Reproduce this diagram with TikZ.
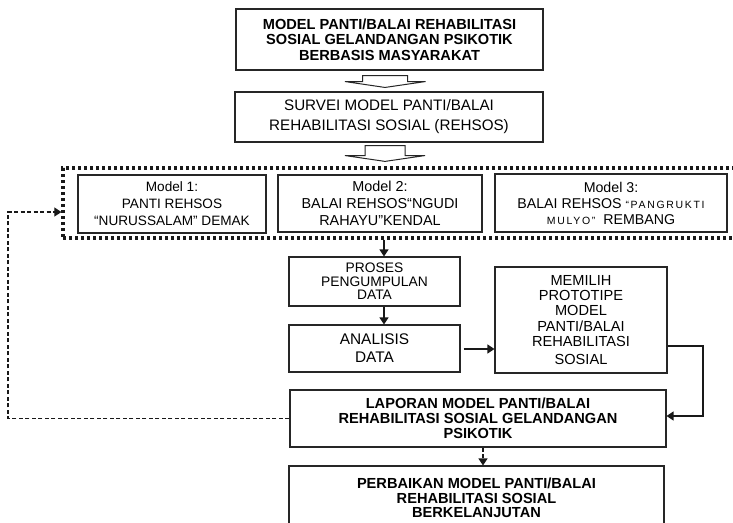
\documentclass[tikz,border=0pt]{standalone}
\usepackage{fontspec}
\setmainfont{Liberation Sans}
\newfontfamily\spacedsmall{Liberation Sans}[LetterSpace=16]
\usetikzlibrary{arrows.meta,calc}

\tikzset{
  box/.style={draw=black!85, line width=1.1pt, align=center, inner sep=0pt},
  frame/.style={draw=black!90, line width=3.2pt, dash pattern=on 3pt off 3pt, inner sep=0pt},
  hollow/.style={draw=black!85, line width=1pt, fill=white, line join=miter},
  arr/.style={draw=black!90, line width=1.2pt, -{Triangle[length=7pt,width=9pt]}},
  darr/.style={draw=black!90, line width=1.1pt, dash pattern=on 4pt off 2.5pt, -{Triangle[length=7pt,width=9pt]}},
  boldtxt/.style={font=\fontsize{14.6}{15.3}\selectfont\bfseries},
}

\begin{document}
\begin{tikzpicture}[x=1pt,y=-1pt]
\useasboundingbox (0,0) rectangle (733,522);
\clip (0,0) rectangle (733,522);

% title box and survey box
\node[box, boldtxt, minimum width=307pt, minimum height=61pt] (top) at (389.5,39.5)
  {MODEL PANTI/BALAI REHABILITASI\\SOSIAL GELANDANGAN PSIKOTIK\\BERBASIS MASYARAKAT};
\node[box, font=\fontsize{15.2}{20}\selectfont, minimum width=308pt, minimum height=50pt] (survei) at (389,117)
  {SURVEI MODEL PANTI/BALAI\\REHABILITASI SOSIAL (REHSOS)};

% dotted frame around the three models
\node[frame, minimum width=682pt, minimum height=70pt] (frame) at (404,203) {};
\node[box, font=\fontsize{13.6}{17}\selectfont, minimum width=188pt, minimum height=58pt] (m1) at (172,204)
  {Model 1:\\PANTI REHSOS\\“NURUSSALAM” DEMAK};
\node[box, font=\fontsize{14.4}{17}\selectfont, minimum width=204pt, minimum height=57pt] (m2) at (380,203.5)
  {Model 2:\\BALAI REHSOS“NGUDI\\RAHAYU”KENDAL};
\node[box, font=\fontsize{14.2}{16}\selectfont, minimum width=232pt, minimum height=58pt] (m3) at (611,203)
  {Model 3:\\BALAI REHSOS {\spacedsmall\fontsize{10.5}{16}\selectfont “PANGRUKTI}\\{\spacedsmall\fontsize{10.5}{16}\selectfont MULYO”}~~REMBANG};

% process boxes
\node[box, font=\fontsize{13.8}{13.6}\selectfont, minimum width=171pt, minimum height=49pt] (proses) at (374.5,281.5)
  {PROSES\\PENGUMPULAN\\DATA};
\node[box, font=\fontsize{15.4}{18}\selectfont, minimum width=171pt, minimum height=47pt] (analisis) at (374.5,348.5)
  {ANALISIS\\DATA};
\node[box, font=\fontsize{14.6}{15.2}\selectfont, minimum width=172pt, minimum height=106pt] (memilih) at (581,320)
  {MEMILIH\\PROTOTIPE\\MODEL\\PANTI/BALAI\\REHABILITASI\\[3pt]SOSIAL};
\node[box, font=\fontsize{14.6}{14.8}\selectfont\bfseries, minimum width=376pt, minimum height=57pt] (laporan) at (478,418.5)
  {LAPORAN MODEL PANTI/BALAI\\REHABILITASI SOSIAL GELANDANGAN\\PSIKOTIK};
\node[box, font=\fontsize{14.6}{14.4}\selectfont\bfseries, minimum width=375pt, minimum height=64pt] (perbaikan) at (476.5,498)
  {PERBAIKAN MODEL PANTI/BALAI\\REHABILITASI SOSIAL\\BERKELANJUTAN};

% hollow block arrows
\draw[hollow] ($(top.south)+(-27,5)$) -- ++(45,0) -- ++(0,6) -- ++(18,0)
  -- ($(survei.north)+(-4,-4)$) -- ($(top.south)+(-44.5,11)$) -- ++(17.5,0) -- cycle;
\draw[hollow] ($(survei.south)+(-24,3)$) -- ++(40,0) -- ++(0,10) -- ++(20,0)
  -- ($(frame.north)+(-19,-5)$) -- ($(survei.south)+(-44,13)$) -- ++(20,0) -- cycle;

% solid connectors
\coordinate (col) at (384,300);
\draw[arr] (frame.south -| col) -- (proses.north -| col);
\draw[arr] (proses.south -| col) -- (analisis.north -| col);
\coordinate (midy) at (0,349);
\draw[arr] ($(analisis.east |- midy)+(3,0)$) -- (memilih.west |- midy);
\coordinate (loopx) at (703,0);
\coordinate (outy) at (0,346);
\coordinate (iny) at (0,416);
\draw[arr] (memilih.east |- outy) -| (loopx |- iny) -- (laporan.east |- iny);

% dashed feedback connectors
\coordinate (dcol) at (483,0);
\draw[darr] (laporan.south -| dcol) -- (perbaikan.north -| dcol);
\coordinate (backx) at (8,0);
\coordinate (backy) at (0,212);
\draw[darr] (laporan.west) -| (backx |- backy) -- (frame.west |- backy);
\end{tikzpicture}
\end{document}
